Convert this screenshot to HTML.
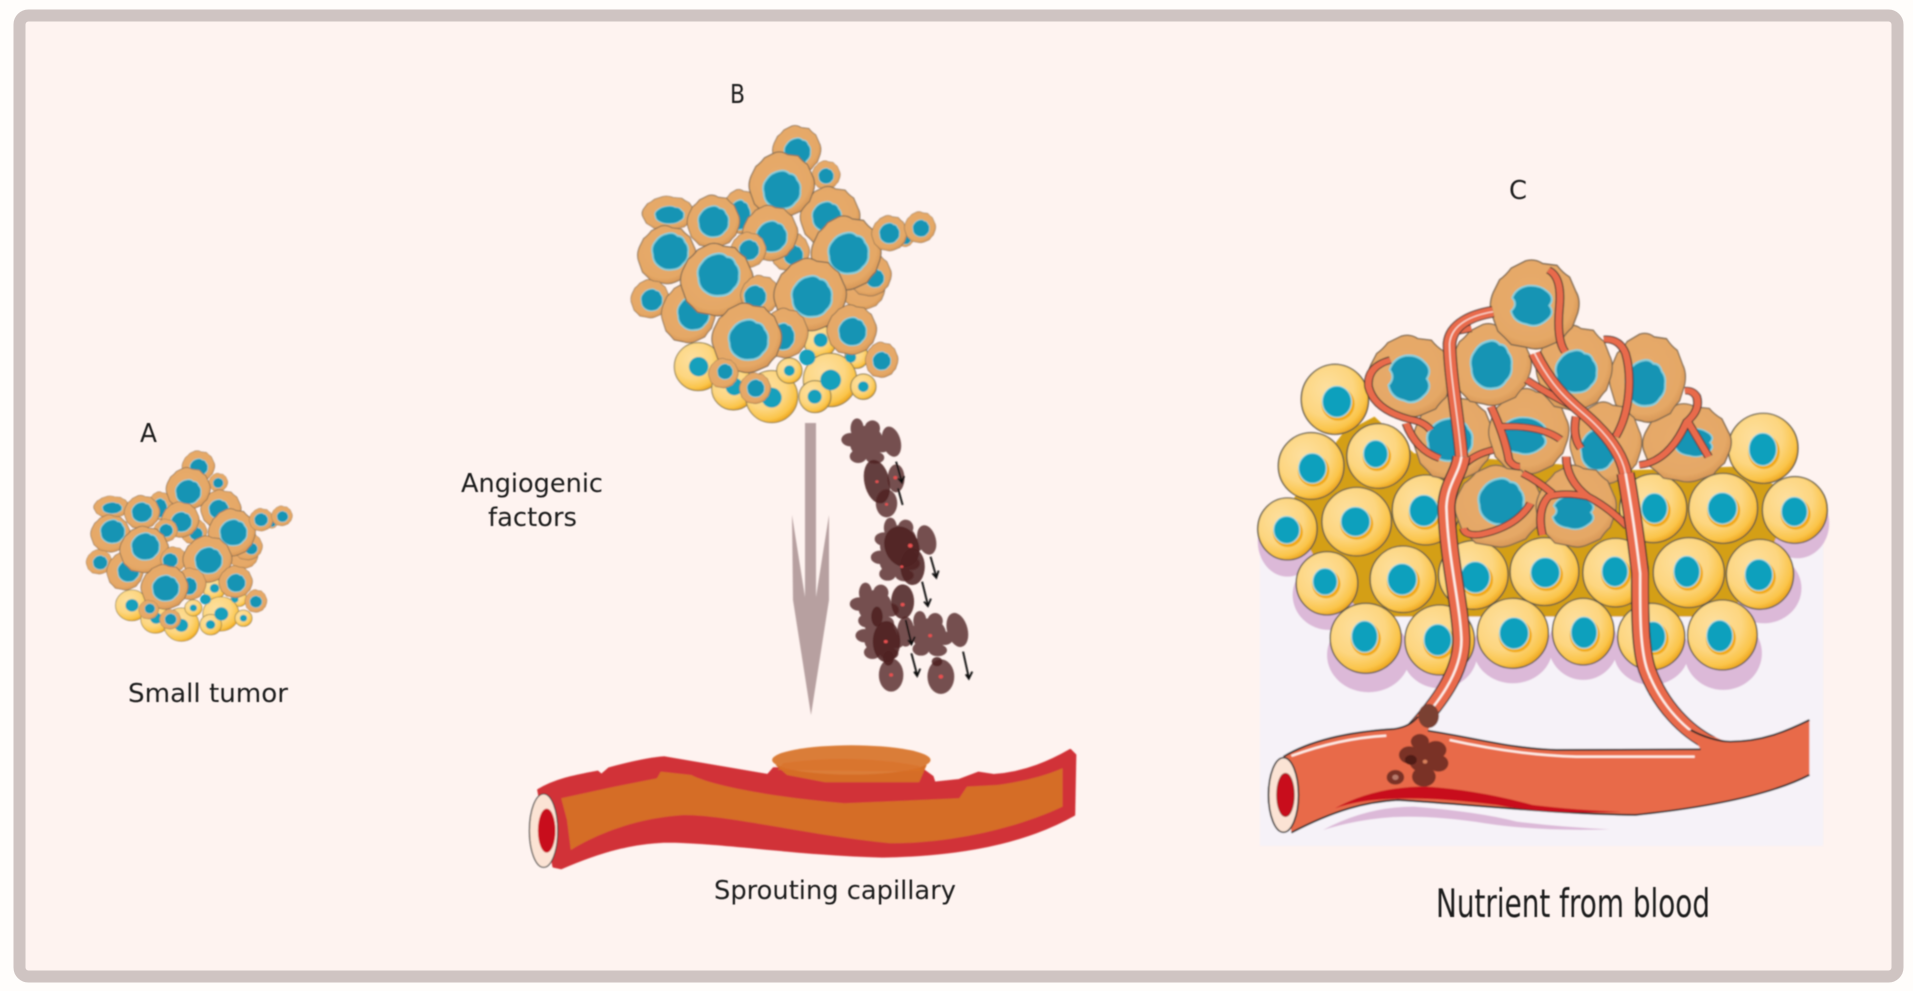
<!DOCTYPE html>
<html><head><meta charset="utf-8"><style>
html,body{margin:0;padding:0;background:#fffdfb;width:1913px;height:991px;overflow:hidden}
svg{display:block}
text{font-family:"DejaVu Sans","Liberation Sans",sans-serif;fill:#1c1c1c}
</style></head><body>
<svg width="1913" height="991" viewBox="0 0 1913 991" xmlns="http://www.w3.org/2000/svg">
<defs>
<filter id="soft" x="-5%" y="-5%" width="110%" height="110%"><feGaussianBlur stdDeviation="0.7"/></filter>
<filter id="tsoft" x="-5%" y="-20%" width="110%" height="140%"><feGaussianBlur stdDeviation="0.45"/></filter>
<radialGradient id="y" cx="38%" cy="35%" r="72%"><stop offset="0" stop-color="#fde0a0"/><stop offset=".55" stop-color="#fdd680"/><stop offset=".82" stop-color="#fbc54a"/><stop offset="1" stop-color="#e89a0c"/></radialGradient>
<radialGradient id="t" cx="45%" cy="42%" r="65%"><stop offset="0" stop-color="#e8ab6c"/><stop offset=".75" stop-color="#e5a866"/><stop offset="1" stop-color="#cf8c4c"/></radialGradient>
<g id="tb"><path transform="scale(1.08)" d="M-20,-98 Q0,-104 18,-92 L50,-88 Q62,-72 78,-62 L92,-30 Q104,-10 96,18 L84,50 Q70,62 60,78 L28,92 Q5,102 -18,94 L-52,88 Q-66,72 -82,58 L-94,24 Q-104,0 -92,-28 L-78,-56 Q-64,-66 -52,-82 Z" fill="url(#t)" stroke="#7a6650" stroke-width="3"/></g>
<g id="nu"><path transform="scale(1.08)" d="M-10,-98 Q20,-105 40,-84 Q70,-84 80,-52 Q102,-30 96,5 Q100,40 70,65 Q50,95 10,96 Q-30,102 -60,78 Q-92,55 -92,15 Q-104,-25 -78,-55 Q-55,-90 -10,-98Z" fill="#1494b4" stroke="#86cfdc" stroke-width="9"/></g>
<g id="nu2"><path transform="scale(1.1)" d="M-20,-95 Q30,-100 60,-70 Q95,-40 70,-5 Q95,30 60,60 Q20,100 -25,80 Q-80,70 -90,20 Q-60,-10 -85,-40 Q-70,-85 -20,-95Z" fill="#1494b4" stroke="#86cfdc" stroke-width="8"/></g>
<g id="star" fill="#75504f"><ellipse cx="0" cy="0" rx="44" ry="50"/><ellipse cx="-25" cy="-42" rx="17" ry="30"/><ellipse cx="15" cy="-42" rx="20" ry="24"/><ellipse cx="-42" cy="-8" rx="24" ry="20"/><ellipse cx="40" cy="10" rx="22" ry="20"/><ellipse cx="-22" cy="42" rx="22" ry="20"/><ellipse cx="22" cy="46" rx="24" ry="18"/></g>

<g id="tumor">
<g transform="translate(600,100) scale(.3333)">
 <g stroke="#8a7a50" stroke-width="3" fill="url(#y)">
 <circle cx="660" cy="725" r="48"/><circle cx="770" cy="770" r="35"/><circle cx="295" cy="800" r="72"/><circle cx="400" cy="865" r="65"/><circle cx="515" cy="890" r="78"/><circle cx="568" cy="812" r="38"/><circle cx="690" cy="840" r="80"/><circle cx="790" cy="860" r="38"/><circle cx="645" cy="890" r="48"/>
 </g>
 <g fill="#12a0bc"><circle cx="662" cy="720" r="21"/><circle cx="622" cy="772" r="24"/><circle cx="752" cy="772" r="16"/><circle cx="296" cy="800" r="29"/><circle cx="403" cy="860" r="26"/><circle cx="515" cy="893" r="30"/><circle cx="568" cy="812" r="16"/><circle cx="692" cy="840" r="31"/><circle cx="790" cy="860" r="16"/><circle cx="644" cy="890" r="21"/></g>
 <use href="#tb" transform="translate(590,150) scale(.68)"/><use href="#nu" transform="translate(592,155) scale(.38)"/>
 <use href="#tb" transform="translate(678,225) scale(.4)"/><use href="#nu" transform="translate(678,228) scale(.22)"/>
 <use href="#tb" transform="translate(420,335) scale(.52,.62)"/><use href="#nu" transform="translate(420,345) scale(.3,.42)"/>
 <use href="#tb" transform="translate(205,340) scale(.74,.48)"/><use href="#nu" transform="translate(208,345) scale(.42,.25)"/>
 <use href="#tb" transform="translate(690,350) scale(.84)"/><use href="#nu" transform="translate(680,350) scale(.42)"/>
 <use href="#tb" transform="translate(200,465) scale(.82)"/><use href="#nu" transform="translate(210,455) scale(.52)"/>
 <use href="#tb" transform="translate(545,255) scale(.92)"/><use href="#nu" transform="translate(545,270) scale(.54)"/>
 <use href="#tb" transform="translate(570,455) scale(.55)"/><use href="#nu" transform="translate(580,465) scale(.28)"/>
 <use href="#tb" transform="translate(340,365) scale(.74)"/><use href="#nu" transform="translate(340,365) scale(.44)"/>
 <use href="#tb" transform="translate(510,400) scale(.78)"/><use href="#nu" transform="translate(515,410) scale(.44)"/>
 <use href="#tb" transform="translate(790,570) scale(.6,.55)"/>
 <use href="#tb" transform="translate(810,525) scale(.6)"/><use href="#nu" transform="translate(825,535) scale(.26)"/>
 <use href="#tb" transform="translate(150,597) scale(.54)"/><use href="#nu" transform="translate(155,600) scale(.31)"/>
 <use href="#tb" transform="translate(265,640) scale(.76,.84)"/><use href="#nu" transform="translate(280,640) scale(.46,.48)"/>
 <use href="#tb" transform="translate(445,450) scale(.5)"/><use href="#nu" transform="translate(447,450) scale(.29)"/>
 <use href="#tb" transform="translate(738,460) scale(.98,1.04)"/><use href="#nu" transform="translate(745,460) scale(.58)"/>
 <use href="#tb" transform="translate(350,540) scale(1.02)"/><use href="#nu" transform="translate(355,525) scale(.6)"/>
 <use href="#tb" transform="translate(915,415) scale(.24)"/><use href="#nu" transform="translate(918,418) scale(.14)"/>
 <use href="#tb" transform="translate(868,400) scale(.5)"/><use href="#nu" transform="translate(868,400) scale(.29)"/>
 <use href="#tb" transform="translate(960,382) scale(.44)"/><use href="#nu" transform="translate(963,385) scale(.24)"/>
 <use href="#tb" transform="translate(480,585) scale(.55)"/><use href="#nu" transform="translate(465,590) scale(.32)"/>
 <use href="#tb" transform="translate(630,585) scale(1.02)"/><use href="#nu" transform="translate(635,590) scale(.58)"/>
 <use href="#tb" transform="translate(755,690) scale(.7)"/><use href="#nu" transform="translate(757,695) scale(.4)"/>
 <use href="#tb" transform="translate(555,700) scale(.65,.7)"/><use href="#nu" transform="translate(550,710) scale(.32,.38)"/>
 <use href="#tb" transform="translate(845,780) scale(.46,.5)"/><use href="#nu" transform="translate(845,783) scale(.26)"/>
 <use href="#tb" transform="translate(440,715) scale(.98)"/><use href="#nu" transform="translate(445,720) scale(.57)"/>
 <use href="#tb" transform="translate(370,820) scale(.42)"/><use href="#nu" transform="translate(375,815) scale(.22)"/>
 <use href="#tb" transform="translate(465,865) scale(.44)"/><use href="#nu" transform="translate(467,865) scale(.25)"/>
</g>
</g>

<path id="tr" d="M440,1470 C500,1390 560,1300 560,1200 C558,1100 525,950 522,800 C525,730 555,700 560,650 M1190,1510 C1130,1475 1065,1400 1030,1290 C1010,1220 1012,1100 1012,1000 C1005,930 990,800 975,700" fill="none"/>
<path id="tu" d="M560,650 C555,560 530,400 530,310 C535,250 590,225 640,215 M975,700 C965,640 930,590 900,555 C860,505 800,470 745,340" fill="none"/>
<path id="br" d="M570,670 Q600,640 640,630 M950,590 C990,510 990,400 975,340 Q960,295 920,298 M860,510 Q790,470 725,420 M980,860 Q930,800 880,770 Q820,755 780,770 Q750,810 765,885 M880,770 Q825,720 825,650 M715,700 Q750,720 790,760 M635,500 Q670,590 680,660 Q690,680 708,680 M660,560 Q760,555 810,598 M380,360 Q320,380 325,440 Q340,510 430,538 Q465,545 482,570 M420,550 Q445,630 505,655 M1010,675 Q1085,665 1130,545 Q1165,510 1155,470 Q1145,450 1125,452 M1130,540 Q1160,600 1185,650 M565,865 Q570,890 610,883 Q700,860 735,790 M850,530 Q840,590 862,625 M540,275 L585,265" fill="none"/>
<path id="tw" d="M780,90 Q815,110 808,200 Q800,300 822,335" fill="none"/>
</defs>

<rect x="19.5" y="15.5" width="1878" height="961" rx="9" fill="#fef3f0" stroke="#cfc4c2" stroke-width="12"/>

<g filter="url(#soft)">
<use href="#tumor" transform="translate(-341,370) scale(.677,.642)"/>
<use href="#tumor"/>

<polygon points="805,423 816,423 816,597 829,515 829,600 811,715 793,600 792,515 805,597" fill="#b7a0a0"/>

<g transform="translate(500,410) scale(.3827,.3333)">
 <use href="#star" transform="translate(958,97)"/>
 <use href="#star" transform="translate(1035,450)"/>
 <use href="#star" transform="translate(1045,395)"/>
 <use href="#star" transform="translate(980,590)"/>
 <use href="#star" transform="translate(1122,675)"/>
 <use href="#star" transform="translate(995,685)"/>
 <g fill="#75504f">
  <ellipse cx="1023" cy="95" rx="24" ry="46" transform="rotate(-12 1023 95)"/><ellipse cx="1010" cy="280" rx="28" ry="42"/><ellipse cx="1035" cy="205" rx="22" ry="42"/><ellipse cx="1115" cy="390" rx="24" ry="45" transform="rotate(-12 1115 390)"/><ellipse cx="1195" cy="660" rx="27" ry="52" transform="rotate(-12 1195 660)"/><ellipse cx="1060" cy="665" rx="22" ry="45"/><ellipse cx="1022" cy="795" rx="32" ry="50"/><ellipse cx="1152" cy="800" rx="35" ry="52"/>
 </g>
 <g fill="#4f2222" fill-opacity=".88">
  <ellipse cx="985" cy="215" rx="33" ry="66" transform="rotate(-10 985 215)"/><ellipse cx="1050" cy="410" rx="45" ry="62" transform="rotate(-15 1050 410)"/><ellipse cx="1078" cy="470" rx="32" ry="55"/><ellipse cx="1052" cy="575" rx="30" ry="52"/><ellipse cx="1010" cy="695" rx="36" ry="62"/><ellipse cx="985" cy="620" rx="15" ry="30"/><ellipse cx="1015" cy="745" rx="14" ry="22"/><ellipse cx="1142" cy="755" rx="14" ry="14"/>
 </g>
 <g fill="#e85050"><circle cx="985" cy="215" r="4"/><circle cx="1033" cy="203" r="5"/><circle cx="1010" cy="283" r="4"/><circle cx="1072" cy="407" r="6"/><circle cx="1050" cy="470" r="4"/><circle cx="1052" cy="584" r="5"/><circle cx="1124" cy="677" r="5"/><circle cx="1008" cy="695" r="5"/><circle cx="1022" cy="795" r="5"/><circle cx="1152" cy="800" r="6"/></g>
 <g stroke="#111" stroke-width="5" fill="none">
  <path d="M1035,155 L1050,215 M1040,235 L1052,285 M1125,440 L1140,500 M1103,515 L1118,585 M1060,630 L1075,700 M1075,730 L1090,795 M1210,725 L1225,803"/>
  <path d="M1040,205 L1050,218 L1056,198 M1130,490 L1140,503 L1146,482 M1108,575 L1118,588 L1126,566 M1066,690 L1075,703 L1084,680 M1082,785 L1090,798 L1098,776 M1217,793 L1225,806 L1234,785"/>
 </g>
 <path d="M100,1140 C150,1105 210,1095 255,1085 L265,1095 L285,1075 C340,1058 390,1045 430,1042 C500,1055 600,1075 700,1095 L715,1075 L1100,1075 L1130,1100 L1135,1118 L1200,1110 L1250,1088 L1290,1095 C1360,1090 1430,1060 1490,1020 L1503,1035 L1500,1215 C1400,1280 1250,1335 1000,1340 C800,1335 600,1300 450,1295 C350,1295 260,1325 160,1375 L140,1370 Z" fill="#d13337" stroke="#d13337" stroke-width="6" stroke-linejoin="round"/>
 <path d="M160,1165 L300,1130 L410,1105 L420,1085 L500,1095 C550,1125 700,1160 900,1180 L1200,1165 L1220,1130 L1300,1125 C1370,1115 1430,1095 1470,1075 L1470,1190 C1350,1255 1180,1300 1020,1300 C800,1275 600,1215 480,1215 C350,1225 250,1275 185,1320 L175,1230 Z" fill="#d56d27"/>
 <polygon points="720,1065 1115,1065 1095,1117 850,1117 750,1095" fill="#d56d27"/>
 <ellipse cx="918" cy="1050" rx="207" ry="44" fill="#da7d38"/>
 <path d="M740,1060 Q920,1030 1095,1068 L1100,1085 L725,1080Z" fill="#d87029" opacity=".7"/>
 <ellipse cx="114" cy="1262" rx="37" ry="110" fill="#fbe3d4" stroke="#3a3a3a" stroke-width="3"/>
 <ellipse cx="122" cy="1262" rx="23" ry="66" fill="#c8101a"/>
</g>

<g transform="translate(1240,240) scale(.3954,.3333)">
 <rect x="50" y="900" width="1425" height="918" fill="#f6f2f8"/>
 <g fill="#dcb9d8">
  <ellipse cx="120" cy="905" rx="75" ry="105"/><ellipse cx="225" cy="1065" rx="92" ry="105"/><ellipse cx="325" cy="1245" rx="105" ry="112"/><ellipse cx="505" cy="1240" rx="95" ry="105"/><ellipse cx="690" cy="1225" rx="100" ry="105"/><ellipse cx="868" cy="1215" rx="88" ry="105"/><ellipse cx="1040" cy="1235" rx="95" ry="100"/><ellipse cx="1222" cy="1240" rx="98" ry="110"/><ellipse cx="1325" cy="1045" rx="95" ry="105"/><ellipse cx="1410" cy="850" rx="80" ry="105"/>
 </g>
 <path d="M120,800 L260,580 L340,530 L440,640 L1000,690 L1250,680 L1400,760 L1320,1000 L1230,1130 L320,1130 L210,1000 Z" fill="#d49f12"/>
 <g stroke="#5b5647" stroke-width="3.5" fill="url(#y)">
  <ellipse cx="240" cy="478" rx="85" ry="105"/><ellipse cx="180" cy="678" rx="83" ry="100"/><ellipse cx="350" cy="648" rx="80" ry="97"/><ellipse cx="120" cy="867" rx="75" ry="93"/><ellipse cx="295" cy="845" rx="88" ry="103"/><ellipse cx="470" cy="810" rx="85" ry="105"/><ellipse cx="220" cy="1030" rx="78" ry="95"/><ellipse cx="412" cy="1018" rx="83" ry="100"/><ellipse cx="590" cy="1005" rx="88" ry="103"/><ellipse cx="770" cy="995" rx="87" ry="102"/><ellipse cx="950" cy="998" rx="83" ry="103"/><ellipse cx="1135" cy="998" rx="90" ry="105"/><ellipse cx="1315" cy="1003" rx="85" ry="105"/><ellipse cx="1045" cy="805" rx="85" ry="103"/><ellipse cx="1222" cy="805" rx="87" ry="105"/><ellipse cx="1403" cy="810" rx="82" ry="100"/><ellipse cx="1323" cy="625" rx="88" ry="105"/><ellipse cx="318" cy="1195" rx="90" ry="105"/><ellipse cx="505" cy="1200" rx="88" ry="105"/><ellipse cx="690" cy="1180" rx="90" ry="105"/><ellipse cx="868" cy="1175" rx="78" ry="100"/><ellipse cx="1040" cy="1190" rx="85" ry="100"/><ellipse cx="1220" cy="1185" rx="88" ry="105"/>
 </g>
 <g fill="#f2aa14">
  <ellipse cx="248" cy="492" rx="42" ry="50"/><ellipse cx="186" cy="692" rx="40" ry="48"/><ellipse cx="346" cy="649" rx="36" ry="44"/><ellipse cx="121" cy="877" rx="38" ry="44"/><ellipse cx="295" cy="852" rx="42" ry="47"/><ellipse cx="468" cy="819" rx="42" ry="50"/><ellipse cx="218" cy="1032" rx="36" ry="43"/><ellipse cx="413" cy="1025" rx="42" ry="50"/><ellipse cx="598" cy="1019" rx="42" ry="50"/><ellipse cx="775" cy="1005" rx="42" ry="48"/><ellipse cx="951" cy="1002" rx="38" ry="48"/><ellipse cx="1133" cy="1002" rx="38" ry="50"/><ellipse cx="1315" cy="1012" rx="40" ry="50"/><ellipse cx="1051" cy="812" rx="38" ry="48"/><ellipse cx="1223" cy="812" rx="42" ry="50"/><ellipse cx="1405" cy="822" rx="38" ry="47"/><ellipse cx="1325" cy="635" rx="40" ry="52"/><ellipse cx="318" cy="1197" rx="38" ry="50"/><ellipse cx="503" cy="1207" rx="40" ry="50"/><ellipse cx="696" cy="1187" rx="42" ry="50"/><ellipse cx="872" cy="1185" rx="38" ry="50"/><ellipse cx="1048" cy="1197" rx="36" ry="48"/><ellipse cx="1216" cy="1195" rx="38" ry="50"/>
 </g>
 <g fill="#10a0bd" stroke="#a9dde4" stroke-width="3">
  <ellipse cx="245" cy="485" rx="37" ry="47"/><ellipse cx="183" cy="685" rx="35" ry="45"/><ellipse cx="343" cy="642" rx="31" ry="41"/><ellipse cx="118" cy="870" rx="33" ry="41"/><ellipse cx="292" cy="845" rx="37" ry="44"/><ellipse cx="465" cy="812" rx="37" ry="47"/><ellipse cx="215" cy="1025" rx="31" ry="40"/><ellipse cx="410" cy="1018" rx="37" ry="47"/><ellipse cx="595" cy="1012" rx="37" ry="47"/><ellipse cx="772" cy="998" rx="37" ry="45"/><ellipse cx="948" cy="995" rx="33" ry="45"/><ellipse cx="1130" cy="995" rx="33" ry="47"/><ellipse cx="1312" cy="1005" rx="35" ry="47"/><ellipse cx="1048" cy="805" rx="33" ry="45"/><ellipse cx="1220" cy="805" rx="37" ry="47"/><ellipse cx="1402" cy="815" rx="33" ry="44"/><ellipse cx="1322" cy="628" rx="35" ry="49"/><ellipse cx="315" cy="1190" rx="33" ry="47"/><ellipse cx="500" cy="1200" rx="35" ry="47"/><ellipse cx="693" cy="1180" rx="37" ry="47"/><ellipse cx="870" cy="1178" rx="33" ry="47"/><ellipse cx="1045" cy="1190" rx="31" ry="45"/><ellipse cx="1213" cy="1188" rx="33" ry="47"/>
 </g>
 <g>
 <use href="#tb" transform="translate(1130,610) scale(1.05,1.1)"/><use href="#nu2" transform="translate(1150,610) scale(.5,.42)"/>
 <use href="#tb" transform="translate(1030,415) scale(.9,1.25)"/><use href="#nu" transform="translate(1025,430) scale(.48,.65)"/>
 <use href="#tb" transform="translate(925,610) scale(.85,1.15)"/><use href="#nu" transform="translate(905,630) scale(.42,.58)"/>
 <use href="#tb" transform="translate(540,595) scale(.95,1.2)"/><use href="#nu" transform="translate(530,600) scale(.55,.6)"/>
 <use href="#tb" transform="translate(730,575) scale(.95,1.2)"/><use href="#nu2" transform="translate(720,590) scale(.6,.55)"/>
 <use href="#tb" transform="translate(845,385) scale(.9,1.2)"/><use href="#nu" transform="translate(850,395) scale(.5,.6)"/>
 <use href="#tb" transform="translate(430,410) scale(1,1.15)"/><use href="#nu2" transform="translate(430,420) scale(.55,.7)"/>
 <use href="#tb" transform="translate(635,375) scale(.95,1.15)"/><use href="#nu" transform="translate(635,375) scale(.5,.68)"/>
 <use href="#tb" transform="translate(745,195) scale(1.05,1.25)"/><use href="#nu2" transform="translate(740,200) scale(.55,.6)"/>
 <use href="#tb" transform="translate(655,800) scale(1.05,1.15)"/><use href="#nu" transform="translate(660,785) scale(.55,.65)"/>
 <use href="#tb" transform="translate(850,800) scale(.95,1.15)"/><use href="#nu2" transform="translate(845,820) scale(.55,.5)"/>
 </g>
 <use href="#tw" stroke="#2a2a2a" stroke-width="22"/><use href="#tw" stroke="#e96b4b" stroke-width="17"/>
 <use href="#br" stroke="#2a2a2a" stroke-width="22"/><use href="#br" stroke="#e96b4b" stroke-width="17"/>
 <use href="#tu" stroke="#2a2a2a" stroke-width="34"/><use href="#tu" stroke="#e96b4b" stroke-width="29"/>
 <use href="#tr" stroke="#2a2a2a" stroke-width="46"/><use href="#tr" stroke="#e96b4b" stroke-width="40"/>
 <use href="#tr" stroke="#fff3ee" stroke-width="6"/>
 <use href="#tu" stroke="#fff3ee" stroke-width="3"/>
 <path d="M110,1550 C180,1500 280,1475 390,1467 Q430,1460 450,1425 L490,1440 L475,1472 C600,1495 680,1525 800,1530 L1165,1528 L1135,1470 L1200,1490 C1215,1500 1230,1505 1240,1505 C1320,1505 1380,1475 1440,1440 L1440,1605 C1350,1660 1200,1700 1000,1725 C800,1722 600,1695 400,1680 C320,1685 240,1710 130,1778 Z" fill="#e86b4a"/>
 <path d="M110,1550 C180,1500 280,1475 390,1467 Q430,1460 450,1430 M475,1472 C600,1495 680,1525 800,1530 L1165,1528 M1140,1470 C1170,1490 1210,1505 1240,1505 C1320,1505 1380,1475 1440,1440 M1440,1605 C1350,1660 1200,1700 1000,1725 C800,1722 600,1695 400,1680 C320,1685 240,1710 130,1778" fill="none" stroke="#2a2a2a" stroke-width="5"/>
 <path d="M130,1548 Q250,1495 370,1487 M530,1500 Q700,1545 850,1550 L1150,1550" fill="none" stroke="#fff0ea" stroke-width="7"/>
 <path d="M240,1705 Q340,1640 470,1640 Q600,1650 740,1695 Q860,1712 965,1715 Q780,1725 650,1695 Q480,1670 380,1677 Q300,1680 240,1705Z" fill="#c80f1c"/>
 <path d="M210,1770 Q320,1700 440,1700 Q600,1715 700,1745 Q820,1762 935,1768 Q760,1775 620,1750 Q480,1725 380,1732 Q290,1740 210,1770Z" fill="#dcb9d8"/>
 <g fill="#7a3226">
  <ellipse cx="477" cy="1428" rx="26" ry="36" fill="#7a3f30"/>
  <circle cx="455" cy="1505" r="23"/><circle cx="428" cy="1545" r="26"/><circle cx="495" cy="1530" r="27"/><circle cx="502" cy="1570" r="25"/><circle cx="465" cy="1560" r="38"/><circle cx="465" cy="1610" r="30"/><circle cx="393" cy="1612" r="22"/>
 </g>
 <circle cx="432" cy="1560" r="15" fill="#4f1c18"/><circle cx="393" cy="1612" r="8" fill="#b87a6c"/><circle cx="468" cy="1565" r="6" fill="#d8805c"/>
 <ellipse cx="110" cy="1665" rx="38" ry="112" fill="#fbe3d4" stroke="#333" stroke-width="4"/>
 <ellipse cx="115" cy="1665" rx="22" ry="65" fill="#c8101a" stroke="#7a1010" stroke-width="2"/>
</g>
</g>

<g filter="url(#tsoft)">
<text x="140" y="442" font-size="26" textLength="17" lengthAdjust="spacingAndGlyphs">A</text>
<text x="128" y="702" font-size="26" textLength="160" lengthAdjust="spacingAndGlyphs">Small tumor</text>
<text x="730" y="103" font-size="26" textLength="15" lengthAdjust="spacingAndGlyphs">B</text>
<text x="461" y="492" font-size="26" textLength="142" lengthAdjust="spacingAndGlyphs">Angiogenic</text>
<text x="488" y="526" font-size="26" textLength="89" lengthAdjust="spacingAndGlyphs">factors</text>
<text x="714" y="899" font-size="26" textLength="242" lengthAdjust="spacingAndGlyphs">Sprouting capillary</text>
<text x="1509" y="199" font-size="26" textLength="18" lengthAdjust="spacingAndGlyphs">C</text>
<text x="1436" y="917" font-size="39" textLength="274" lengthAdjust="spacingAndGlyphs">Nutrient from blood</text>
</g>
</svg>
</body></html>
